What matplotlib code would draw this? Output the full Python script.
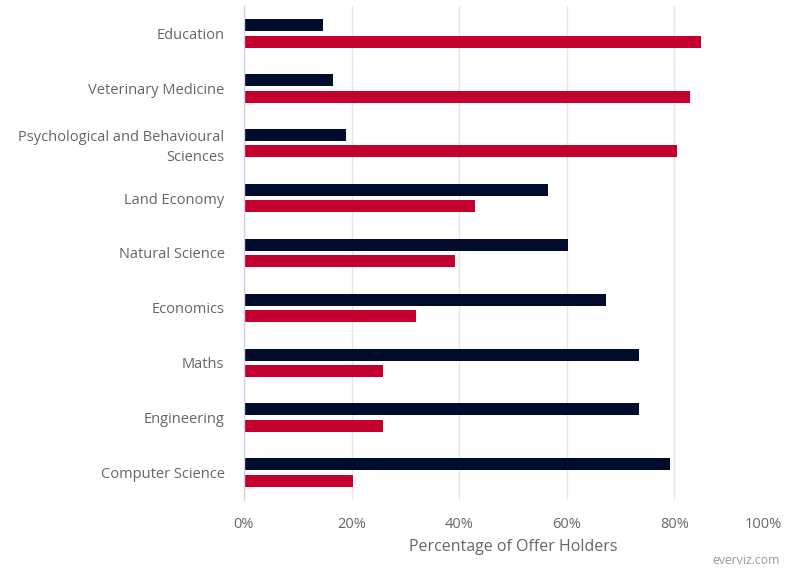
import matplotlib
matplotlib.use("Agg")
import matplotlib.pyplot as plt
import numpy as np

plt.rcParams["font.family"] = ["Open Sans", "DejaVu Sans"]

# ---- data ---------------------------------------------------------------
subjects = [
    "Education",
    "Veterinary Medicine",
    "Psychological and Behavioural\nSciences",
    "Land Economy",
    "Natural Science",
    "Economics",
    "Maths",
    "Engineering",
    "Computer Science",
]
navy_pct = [14.6, 16.5, 19.0, 56.5, 60.2, 67.2, 73.5, 73.5, 79.1]
red_pct = [84.9, 82.9, 80.4, 42.9, 39.2, 32.0, 25.9, 25.9, 20.2]
x_ticks = [0, 20, 40, 60, 80, 100]
x_tick_labels = ["0%", "20%", "40%", "60%", "80%", "100%"]

NAVY = "#010b2b"
RED = "#c4002f"
TEXT = "#666666"

fig = plt.figure(figsize=(7.85, 5.68), dpi=100)
ax = fig.add_axes([244 / 785, 1 - 500 / 568, 538 / 785, 494 / 568])

y = np.arange(len(subjects))
bar_h = 0.22
off = 0.15
ax.barh(y - off, navy_pct, height=bar_h, color=NAVY, zorder=3)
ax.barh(y + off, red_pct, height=bar_h, color=RED, zorder=3)

ax.set_xlim(0, 100)
ax.set_ylim(len(subjects) - 0.5, -0.5)

ax.set_yticks(y)
ax.set_yticklabels(subjects, fontsize=10.5, color=TEXT, ha="right",
                   linespacing=1.4)
ax.tick_params(axis="y", length=0, pad=14)

ax.set_xticks(x_ticks)
ax.set_xticklabels(x_tick_labels, fontsize=10.5, color=TEXT)
ax.tick_params(axis="x", length=0, pad=12)
ax.get_xticklabels()[-1].set_ha("right")

ax.grid(axis="x", color="#e6e6e6", linewidth=1, zorder=0)
for side in ["top", "right", "bottom"]:
    ax.spines[side].set_visible(False)
ax.spines["left"].set_color("#ccd6eb")
ax.spines["left"].set_linewidth(1)
ax.spines["left"].set_zorder(4)

ax.set_xlabel("Percentage of Offer Holders", fontsize=11.5, color=TEXT, labelpad=5)

fig.text(780 / 785, 1 - 561 / 568, "everviz.com", fontsize=8.8, color="#999999",
         ha="right", va="center")

fig.savefig("out.png", dpi=100)
